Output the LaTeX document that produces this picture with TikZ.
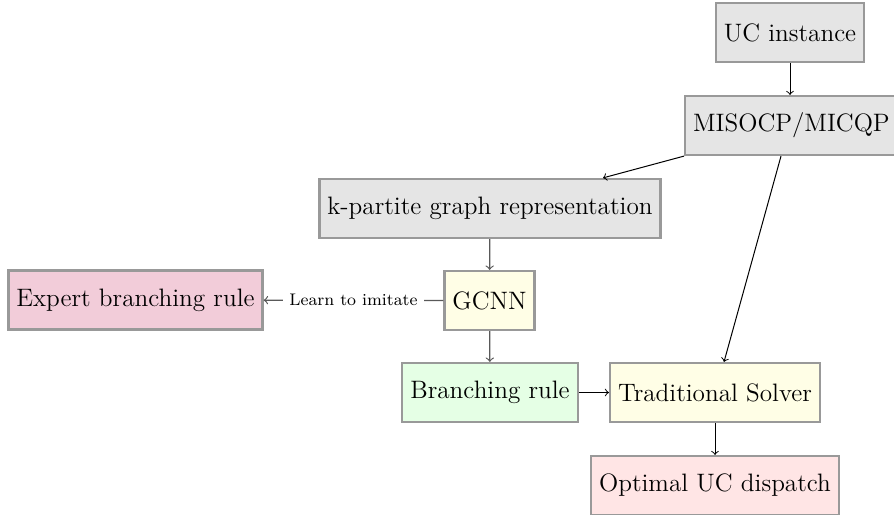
\documentclass[tikz,border=0pt]{standalone}
\usetikzlibrary{calc}
\tikzset{
  blk/.style={draw=gray!80, line width=1.1pt, font=\fontsize{12.6}{15}\selectfont,
    minimum height=29.5pt, inner xsep=4pt, anchor=center},
  conn/.style={->, >=to, line width=0.5pt, black},
  conng/.style={->, >=to, line width=0.6pt, black!65},
}
\begin{document}
\begin{tikzpicture}[x=0.5pt, y=-0.5pt]
  \useasboundingbox (0,0) rectangle (894,514);
  % blocks
  \node[blk, fill=gray!20]   (uc)   at (790,32.5)   {UC instance};
  \node[blk, fill=gray!20, anchor=west] (mis) at (684,125.5) {MISOCP/MICQP};
  \node[blk, fill=gray!20]   (kp)   at (490,208.5)  {k-partite graph representation};
  \node[blk, fill=yellow!10] (gcnn) at (489.5,300.5) {GCNN};
  \node[blk, fill=purple!20] (exp)  at (135.5,300)  {Expert branching rule};
  \node[blk, fill=green!10]  (br)   at (490,392.5)  {Branching rule};
  \node[blk, fill=yellow!10] (ts)   at (715,392.5)  {Traditional Solver};
  \node[blk, fill=red!10]    (opt)  at (715,485.5)  {Optimal UC dispatch};
  % connectors
  \draw[conn] (uc) -- (uc |- mis.north);
  \draw[conn] (mis.south west) -- ([xshift=56.5pt]kp.north);
  \draw[conn] ([xshift=48.5pt]mis.south west) -- ([xshift=4.5pt]ts.north);
  \draw[conng] (kp) -- (gcnn);
  \draw[conng] (gcnn) -- (br);
  \draw[conng] (gcnn) -- node[fill=white, text=black, font=\fontsize{8.4}{10}\selectfont, inner sep=3pt] {Learn to imitate} (exp);
  \draw[conn] (br) -- (ts);
  \draw[conn] (ts) -- (opt);
\end{tikzpicture}
\end{document}
